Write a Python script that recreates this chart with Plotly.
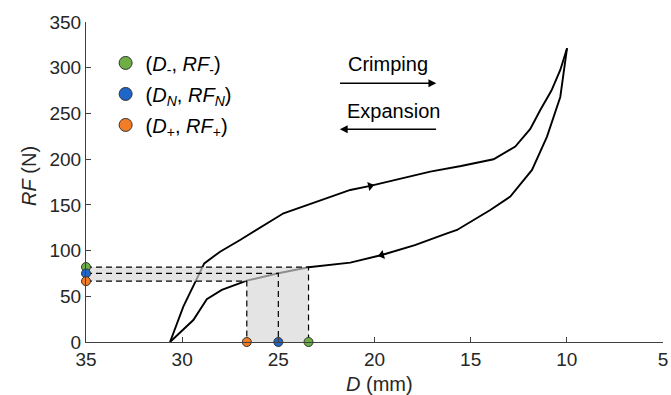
import plotly.graph_objects as go

# ---- data ----
crimp_D = [30.63, 29.94, 28.85, 28.03, 26.99, 25.9, 24.73, 23.4, 22.3, 21.26, 20.22, 18.6, 17.1, 15.5, 13.81, 12.68, 11.9, 11.38, 10.8, 10.34, 9.99]
crimp_RF = [0, 38.6, 86, 98.8, 111.6, 126, 140.8, 150.5, 159, 166.3, 170.7, 179, 186.3, 192.5, 199.9, 213.7, 233, 253.8, 275, 297.6, 321.3]

expan_D = [9.99, 10.34, 11.03, 11.81, 12.94, 13.98, 15.71, 16.23, 17.9, 19.62, 21.26, 22.3, 23.43, 25.0, 26.64, 27.94, 28.72, 29.42, 30.63]
expan_RF = [321.3, 268, 224.6, 188.2, 159, 144.4, 122.5, 118.9, 106, 95.2, 86.8, 84.2, 81.7, 75.2, 67.1, 56.9, 46.7, 24, 0]

key_names = ["(<i>D</i><sub>-</sub>, <i>RF</i><sub>-</sub>)",
             "(<i>D</i><sub><i>N</i></sub>, <i>RF</i><sub><i>N</i></sub>)",
             "(<i>D</i><sub>+</sub>, <i>RF</i><sub>+</sub>)"]
key_D = [23.43, 25.0, 26.64]
key_RF = [82.0, 75.0, 66.5]
key_colors = ["#6DAE45", "#1F66C9", "#F37D24"]

x_ticks = [35, 30, 25, 20, 15, 10, 5]
y_ticks = [0, 50, 100, 150, 200, 250, 300, 350]

X_MAX, X_MIN = 35, 5

FONT = "Arial, Liberation Sans, Helvetica, sans-serif"
TXT = "#262626"

fig = go.Figure()

# curves
fig.add_trace(go.Scatter(x=crimp_D, y=crimp_RF, mode="lines",
                         line=dict(color="black", width=1.9), showlegend=False, hoverinfo="skip"))
fig.add_trace(go.Scatter(x=expan_D, y=expan_RF, mode="lines",
                         line=dict(color="black", width=1.9), showlegend=False, hoverinfo="skip"))

# direction arrowheads on curves
fig.add_trace(go.Scatter(x=[crimp_D[10]], y=[crimp_RF[10]], mode="markers",
                         marker=dict(symbol="triangle-right", size=8, angle=-13, color="black"),
                         showlegend=False, hoverinfo="skip"))
fig.add_trace(go.Scatter(x=[expan_D[9]], y=[expan_RF[9]], mode="markers",
                         marker=dict(symbol="triangle-left", size=8, angle=-15, color="black"),
                         showlegend=False, hoverinfo="skip"))

# shaded region (drawn over curves with transparency)
Dm, Dn, Dp = key_D
Rm, Rn, Rp = key_RF
shade_x = [X_MAX, Dp, Dp, Dm, Dm, X_MAX, X_MAX]
shade_y = [Rp, Rp, 0, 0, Rm, Rm, Rp]
fig.add_trace(go.Scatter(x=shade_x, y=shade_y, mode="lines", fill="toself",
                         fillcolor="rgba(214,214,214,0.66)", line=dict(width=0),
                         showlegend=False, hoverinfo="skip"))

# dashed guide lines
dx, dy = [], []
for d, r in zip(key_D, key_RF):
    dx += [X_MAX, d, d, None]
    dy += [r, r, 0, None]
fig.add_trace(go.Scatter(x=dx, y=dy, mode="lines",
                         line=dict(color="black", width=1.2, dash="6px,4px"),
                         showlegend=False, hoverinfo="skip"))

# markers on axes
for name, d, r, c in zip(key_names, key_D, key_RF, key_colors):
    fig.add_trace(go.Scatter(x=[d, X_MAX], y=[0, r], mode="markers", cliponaxis=False,
                             marker=dict(size=9, color=c, line=dict(color="#333333", width=1)),
                             showlegend=False, hoverinfo="skip"))
# legend entries
for i, (name, c) in enumerate(zip(key_names, key_colors)):
    fig.add_trace(go.Scatter(x=[None], y=[None], mode="markers", name=name,
                             legendgroup=f"g{i}",
                             marker=dict(size=13, color=c, line=dict(color="#333333", width=1))))

# direction annotations
fig.add_annotation(x=19.31, y=304, text="Crimping", showarrow=False,
                   font=dict(size=20, color="black", family=FONT))
fig.add_annotation(x=16.79, y=283, ax=21.87, ay=283, axref="x", ayref="y", xref="x", yref="y",
                   text="", showarrow=True, arrowhead=2, arrowsize=1.2, arrowwidth=1.3, arrowcolor="black")
fig.add_annotation(x=19.03, y=253, text="Expansion", showarrow=False,
                   font=dict(size=20, color="black", family=FONT))
fig.add_annotation(x=21.8, y=232.7, ax=16.72, ay=232.7, axref="x", ayref="y", xref="x", yref="y",
                   text="", showarrow=True, arrowhead=2, arrowsize=1.2, arrowwidth=1.3, arrowcolor="black")

# axis titles
fig.add_annotation(x=0.508, y=-0.13, xref="paper", yref="paper", yanchor="middle",
                   text="<i>D</i> (mm)", showarrow=False, font=dict(size=20, color=TXT, family=FONT))
fig.add_annotation(x=-0.1, y=0.52, xref="paper", yref="paper", textangle=-90,
                   xanchor="center", yanchor="middle",
                   text="<i>RF</i> (N)", showarrow=False, font=dict(size=20, color=TXT, family=FONT))

fig.update_layout(
    width=671, height=395,
    margin=dict(l=86, r=8, t=22, b=53, autoexpand=False),
    paper_bgcolor="white", plot_bgcolor="white",
    font=dict(family=FONT, size=19, color=TXT),
    legend=dict(x=0.034, y=0.933, xanchor="left", yanchor="top", bgcolor="rgba(0,0,0,0)",
                tracegroupgap=2, traceorder="grouped", font=dict(size=20, color="black"),
                itemwidth=30),
    xaxis=dict(range=[X_MAX, X_MIN], tickvals=x_ticks, ticktext=[str(t) for t in x_ticks],
               showgrid=False, zeroline=False, showline=True, linecolor="#404040", linewidth=1,
               ticks="inside", ticklen=5, tickcolor="#404040", automargin=False),
    yaxis=dict(range=[0, 350], tickvals=y_ticks, showgrid=False, zeroline=False,
               showline=True, linecolor="#404040", linewidth=1,
               ticks="inside", ticklen=5, tickcolor="#404040", automargin=False),
)

fig.write_html("out.html", config={"displayModeBar": False},
               post_script="document.body.style.margin='0';document.body.style.padding='0';")
